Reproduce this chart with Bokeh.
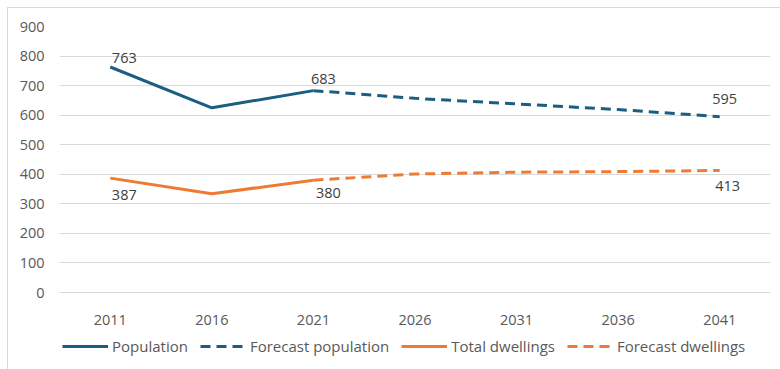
from bokeh.plotting import figure
from bokeh.models import ColumnDataSource, Range1d, Legend, LegendItem, FixedTicker
from bokeh.core.properties import value
from bokeh.embed import file_html
from bokeh.resources import INLINE

# Census years and projection years
years = [2011, 2016, 2021, 2026, 2031, 2036, 2041]
actual_years = [2011, 2016, 2021]
forecast_years = [2021, 2026, 2031, 2036, 2041]

population = [763, 625, 683]
forecast_population = [683, 657, 638, 619, 595]
dwellings = [387, 334, 380]
forecast_dwellings = [380, 401, 407, 409, 413]

y_ticks = [0, 100, 200, 300, 400, 500, 600, 700, 800, 900]

BLUE = "#1C5E82"
ORANGE = "#EE7B34"
GREY = "#595959"
FONT = "Open Sans"
FS = "14.5px"
LEGEND_FS = "15px"
DASH = "10 6"

# Canvas / frame geometry (pixels)
W, H = 773, 362
LEFT, RIGHT, TOP = 51, 11, 18
PLOT_H = 266          # height of the 0..900 band
frame_w = W - LEFT - RIGHT
frame_h = H - TOP
step = frame_w / len(years)               # pixels per category slot
px_per_year = step / 5
x_start = years[0] - (step / 2) / px_per_year
x_end = x_start + frame_w / px_per_year
y_start = -900 * (frame_h - PLOT_H) / PLOT_H

p = figure(
    x_range=Range1d(x_start, x_end), y_range=Range1d(y_start, 900),
    width=W, height=H,
    output_backend="svg", toolbar_location=None,
    min_border_left=LEFT, min_border_right=RIGHT, min_border_top=TOP, min_border_bottom=0,
)
p.styles = {"margin-left": "7px", "margin-top": "7px",
            "border-left": "1px solid #D9D9D9", "border-top": "1px solid #D9D9D9"}
p.outline_line_color = None
p.background_fill_color = "white"
p.border_fill_color = "white"

p.xaxis.visible = False
p.xgrid.grid_line_color = None
p.ygrid.grid_line_color = "#D9D9D9"
p.ygrid.grid_line_width = 1
p.yaxis.ticker = FixedTicker(ticks=y_ticks)
p.yaxis.axis_line_color = None
p.yaxis.major_tick_line_color = None
p.yaxis.minor_tick_line_color = None
p.yaxis.major_tick_out = 0
p.yaxis.major_tick_in = 0
p.yaxis.major_label_text_font = FONT
p.yaxis.major_label_text_font_size = FS
p.yaxis.major_label_text_color = GREY
p.yaxis.major_label_standoff = 15

# Category labels under the zero line
p.text(x=years, y=[0] * len(years), text=[str(y) for y in years], y_offset=27,
       text_font=value(FONT), text_font_size=FS, text_color=GREY,
       text_align="center", text_baseline="middle")

lw = 3
r_pop = p.line(actual_years, population, line_color=BLUE, line_width=lw, line_join="round")
r_fpop = p.line(forecast_years, forecast_population, line_color=BLUE, line_width=lw,
                line_dash=DASH)
r_dw = p.line(actual_years, dwellings, line_color=ORANGE, line_width=lw, line_join="round")
r_fdw = p.line(forecast_years, forecast_dwellings, line_color=ORANGE, line_width=lw,
               line_dash=DASH)

# Value labels on the first, last-actual and final points
label_years = [2011, 2021, 2041]
pop_labels = [population[0], population[2], forecast_population[-1]]
dw_labels = [dwellings[0], dwellings[2], forecast_dwellings[-1]]

pop_src = ColumnDataSource(dict(x=label_years, y=pop_labels, t=[str(v) for v in pop_labels],
                                dx=[14, 10, 5], dy=[-9, -12, -18]))
dw_src = ColumnDataSource(dict(x=label_years, y=dw_labels, t=[str(v) for v in dw_labels],
                               dx=[14, 15, 8], dy=[17, 13, 16]))
for src in (pop_src, dw_src):
    p.text(x="x", y="y", text="t", x_offset="dx", y_offset="dy", source=src,
           text_font=value(FONT), text_font_size=FS, text_color="#404040",
           text_align="center", text_baseline="middle")

legend = Legend(items=[
    LegendItem(label="Population", renderers=[r_pop]),
    LegendItem(label="Forecast population", renderers=[r_fpop]),
    LegendItem(label="Total dwellings", renderers=[r_dw]),
    LegendItem(label="Forecast dwellings", renderers=[r_fdw]),
], orientation="horizontal", location=(3, 14))
legend.label_text_font = FONT
legend.label_text_font_size = LEGEND_FS
legend.label_text_color = GREY
legend.label_height = 18
legend.glyph_width = 46
legend.glyph_height = 12
legend.label_standoff = 4
legend.spacing = 12
legend.padding = 0
legend.margin = 0
legend.border_line_color = None
legend.background_fill_alpha = 0
p.add_layout(legend, "center")

open("out.html", "w").write(file_html(p, INLINE))
